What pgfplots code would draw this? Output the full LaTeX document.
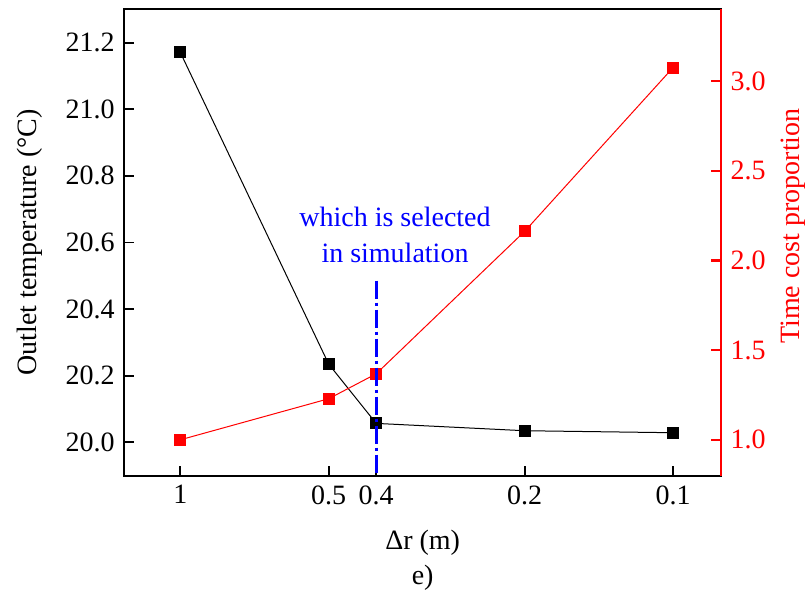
\documentclass[border=0pt]{standalone}
\usepackage{fontspec}
\setmainfont{Liberation Serif}
\usepackage{pgfplots}
\pgfplotsset{compat=1.18}
\newcommand{\F}{\fontsize{14pt}{17pt}\selectfont}
\begin{document}
\F
\begin{tikzpicture}
\useasboundingbox (-62.15pt,-59.65pt) rectangle (343.35pt,237.85pt);
\begin{axis}[
  at={(0,0)}, anchor=south west, clip mode=individual,
  scale only axis, width=298.35pt, height=233.2pt,
  xmin=-0.377, xmax=3.643, ymin=19.9, ymax=21.3,
  xtick={0,1,1.32,2.32,3.32}, xticklabels={1,0.5,0.4,0.2,0.1},
  ytick={20,20.2,20.4,20.6,20.8,21.0,21.2},
  xtick pos=bottom, ytick pos=left, tick align=inside,
  major tick length=5pt,
  axis line style={line width=0.9pt},
  every tick/.style={black, line width=0.9pt},
  yticklabel style={/pgf/number format/.cd, fixed, fixed zerofill, precision=1},
  /pgf/number format/assume math mode=true,
  tick label style={font=\F},
]
\addplot[black, line width=0.5pt, mark=square*, mark size=2.75pt, mark options={solid, black}]
  coordinates {(0,21.171) (1,20.235) (1.32,20.057) (2.32,20.035) (3.32,20.029)};
\node[font=\F, rotate=90] at (rel axis cs:-0.158,0.5) {Outlet temperature (°C)};
\node[font=\F, anchor=base] at (rel axis cs:0.5,-0.1593) {Δr (m)};
\node[font=\F, anchor=base] at (rel axis cs:0.5,-0.2343) {e)};
\end{axis}
\begin{axis}[
  at={(0,0)}, anchor=south west, clip mode=individual,
  scale only axis, width=298.35pt, height=233.2pt,
  xmin=-0.377, xmax=3.643, ymin=0.8, ymax=3.4,
  axis y line*=right, axis x line=none,
  ytick={1,1.5,2,2.5,3},
  tick align=inside, major tick length=5pt,
  y axis line style={red, line width=1.1pt},
  every tick/.style={red, line width=1.1pt},
  yticklabel style={red, /pgf/number format/.cd, fixed, fixed zerofill, precision=1},
  /pgf/number format/assume math mode=true,
  tick label style={font=\F},
]
\addplot[red, line width=0.5pt, mark=square*, mark size=2.75pt, mark options={solid, red}]
  coordinates {(0,1.00) (1,1.229) (1.32,1.368) (2.32,2.162) (3.32,3.075)};
\addplot[blue, line width=1.6pt, dash pattern=on 9pt off 2pt on 1.5pt off 2pt]
  coordinates {(1.32,1.888) (1.32,0.8)};
\node[font=\F, red, rotate=90] at (rel axis cs:1.1206,0.5354) {Time cost proportion};
\node[font=\F, blue, anchor=base] at (rel axis cs:0.4537,0.5339) {which is selected};
\node[font=\F, blue, anchor=base] at (rel axis cs:0.4537,0.4567) {in simulation};
\end{axis}
\end{tikzpicture}
\end{document}
